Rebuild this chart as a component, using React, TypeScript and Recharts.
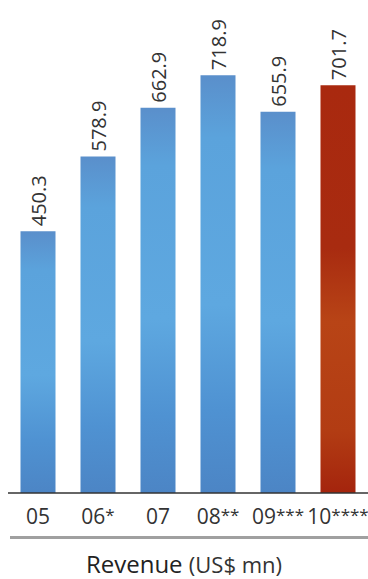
import React from 'react';
import { BarChart, Bar, XAxis, YAxis, LabelList, Cell } from 'recharts';

const years = ['05', '06*', '07', '08**', '09***', '10****'];
const revenue = [450.3, 578.9, 662.9, 718.9, 655.9, 701.7];
const highlight = [false, false, false, false, false, true];

const data = years.map((year, i) => ({ year, revenue: revenue[i], highlight: highlight[i] }));

const FONT = '"Open Sans", "Noto Sans", sans-serif';

const ValueLabel = (props: any) => {
    const { x, y, width, value } = props;
    const cx = x + width / 2 + 8.5;
    const ty = y - 5;
    return (
        <text
            x={cx}
            y={ty}
            transform={`rotate(-90 ${cx} ${ty})`}
            textAnchor="start"
            fill="#333"
            fontSize={20}
            fontFamily={FONT}
        >
            {value.toFixed(1)}
        </text>
    );
};

const YearTick = (props: any) => {
    const { x, y, payload } = props;
    const label: string = payload.value;
    const digits = label.replace(/\*/g, '');
    const stars = label.slice(digits.length);
    return (
        <text x={x} y={y + 23} textAnchor="middle" fill="#333" fontSize={21} fontFamily={FONT}>
            {digits}
            {stars && <tspan fontSize={17} dy={-3}>{stars}</tspan>}
        </text>
    );
};

const App: React.FC = () => {
    return (
        <div style={{ position: 'absolute', left: 0, top: 0, width: 368, height: 579, background: '#fff' }}>
            <BarChart
                width={368}
                height={545}
                data={data}
                margin={{ top: 28, right: 0, left: 8, bottom: 0 }}
                barCategoryGap={12.5}
            >
                <defs>
                    <linearGradient id="blueFill" x1="0" y1="0" x2="0" y2="1">
                        <stop offset="0%" stopColor="#5a8fcb" />
                        <stop offset="15%" stopColor="#5ba3dc" />
                        <stop offset="55%" stopColor="#5ea8e0" />
                        <stop offset="80%" stopColor="#4f92d2" />
                        <stop offset="100%" stopColor="#4c85c5" />
                    </linearGradient>
                    <linearGradient id="redFill" x1="0" y1="0" x2="0" y2="1">
                        <stop offset="0%" stopColor="#a9290f" />
                        <stop offset="40%" stopColor="#a82b10" />
                        <stop offset="58%" stopColor="#b84416" />
                        <stop offset="85%" stopColor="#b23c13" />
                        <stop offset="100%" stopColor="#a4240d" />
                    </linearGradient>
                </defs>
                <YAxis hide domain={[0, 800]} />
                <XAxis
                    dataKey="year"
                    height={52}
                    axisLine={{ stroke: '#333', strokeWidth: 1.5 }}
                    tickLine={false}
                    tick={<YearTick />}
                    interval={0}
                />
                <Bar dataKey="revenue" isAnimationActive={false}>
                    {data.map((d, i) => (
                        <Cell key={i} fill={d.highlight ? 'url(#redFill)' : 'url(#blueFill)'} />
                    ))}
                    <LabelList dataKey="revenue" content={<ValueLabel />} />
                </Bar>
            </BarChart>
            <div style={{ position: 'absolute', left: 10, top: 536, width: 358, height: 3, background: '#a0a0a0' }} />
            <div
                style={{
                    position: 'absolute',
                    left: 0,
                    top: 549,
                    width: 368,
                    textAlign: 'center',
                    fontFamily: FONT,
                    fontSize: 24,
                    lineHeight: '30px',
                    color: '#222',
                    whiteSpace: 'nowrap',
                }}
            >
                Revenue <span style={{ fontSize: 22, color: '#333' }}>(US$ mn)</span>
            </div>
        </div>
    );
};

export default App;
